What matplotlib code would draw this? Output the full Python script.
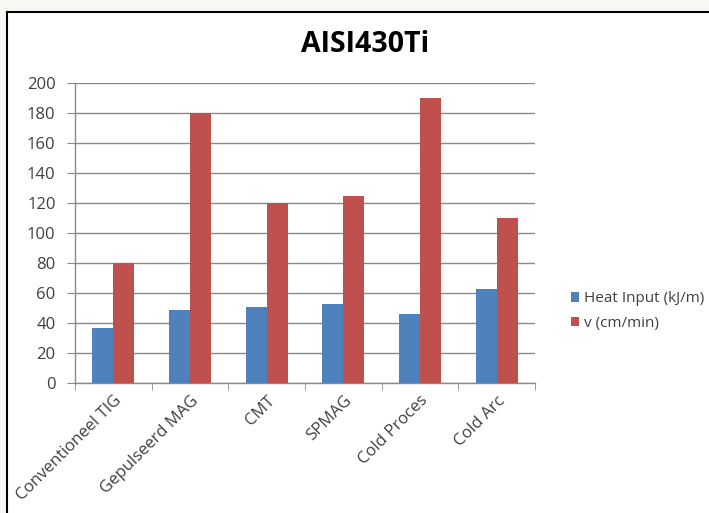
import matplotlib
matplotlib.use("Agg")
import matplotlib.pyplot as plt
import numpy as np
from matplotlib.patches import Rectangle

categories = ["Conventioneel TIG", "Gepulseerd MAG", "CMT", "SPMAG", "Cold Proces", "Cold Arc"]
heat_input = [37, 49, 51, 53, 46, 62.5]
speed = [80, 180, 120, 125, 190, 110]
series_names = ["Heat Input (kJ/m)", "v (cm/min)"]
yticks = [0, 20, 40, 60, 80, 100, 120, 140, 160, 180, 200]

plt.rcParams['font.family'] = ['Open Sans', 'DejaVu Sans']

W, H = 709, 513
fig = plt.figure(figsize=(W / 100, H / 100), dpi=100)
fig.patch.set_facecolor('#f8f7f3')
frame = Rectangle((7 / W, -0.05), 1.1, 1 - 12 / H + 0.05, transform=fig.transFigure,
                  facecolor='white', edgecolor='black', linewidth=1.5, zorder=-10)
fig.patches.append(frame)

ax = fig.add_axes([75 / W, (H - 383) / H, 460 / W, 300 / H])
ax.set_facecolor('none')

x = np.arange(len(categories))
bw = 0.275
ax.bar(x - bw / 2, heat_input, bw, color='#4F81BD', label=series_names[0], zorder=3)
ax.bar(x + bw / 2, speed, bw, color='#C0504D', label=series_names[1], zorder=3)

ax.set_xlim(-0.5, len(categories) - 0.5)
ax.set_ylim(0, 200)
ax.set_yticks(yticks)
ax.yaxis.grid(True, color='#8a8a8a', linewidth=1, zorder=0)
ax.set_axisbelow(True)

ax.set_xticks(x)
ax.set_xticklabels(categories, rotation=45, ha='right', rotation_mode='anchor',
                   fontsize=12, color='#404040')
ax.tick_params(axis='x', length=0, pad=7)
ax.set_xticks(np.arange(len(categories) + 1) - 0.5, minor=True)
ax.tick_params(axis='x', which='minor', length=5, color='#8a8a8a', direction='out')
ax.tick_params(axis='y', length=6, color='#8a8a8a', labelsize=12, labelcolor='#404040', pad=8)

for s in ['top', 'right']:
    ax.spines[s].set_visible(False)
for s in ['left', 'bottom']:
    ax.spines[s].set_color('#8a8a8a')
    ax.spines[s].set_linewidth(1)

fig.text(365 / W, 1 - 45 / H, "AISI430Ti", ha='center', va='center',
         fontsize=20.5, fontweight='bold', color='black')

leg = fig.legend(loc='center left', bbox_to_anchor=(557 / W, 1 - 311 / H), frameon=False,
                 fontsize=11, handlelength=0.55, handleheight=0.55, handletextpad=0.3,
                 labelspacing=0.6)
for t in leg.get_texts():
    t.set_color('#404040')

fig.savefig("out.png", dpi=100, facecolor=fig.get_facecolor())
